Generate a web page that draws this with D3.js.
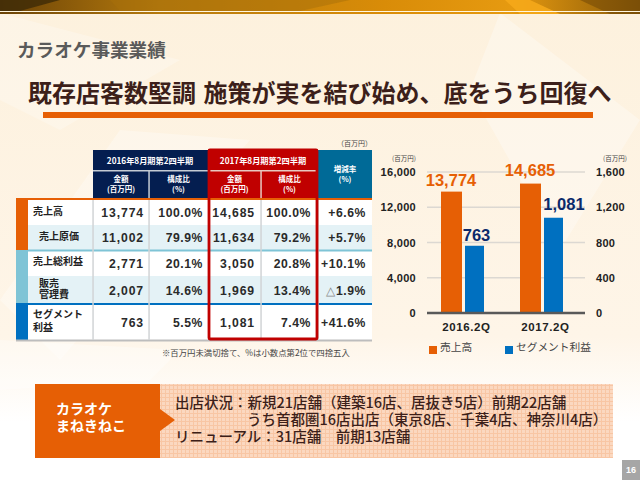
<!DOCTYPE html>
<html>
<head>
<meta charset="utf-8">
<script src="https://cdn.jsdelivr.net/npm/d3@7"></script>
<style>
html, body { margin: 0; padding: 0; background: #fff; overflow: hidden; }
svg { display: block; }
text { font-family: "Noto Sans CJK JP", sans-serif; }
.num { font-family: "Liberation Sans", Arial, sans-serif; font-weight: 700; }
.axis path, .axis line { display: none; }
.axis text { font-family: "Liberation Sans", Arial, sans-serif; font-weight: 700; font-size: 11px; fill: #222; letter-spacing: .3px; }
.axis.bottom text { font-size: 11.5px; letter-spacing: .6px; }
</style>
</head>
<body>
<div id="chart-area"></div>
<script>
// data
let quarters = ["2016.2Q", "2017.2Q"];
let salesValues = [13774, 14685];
let profitValues = [763, 1081];
let leftTicks = [0, 4000, 8000, 12000, 16000];
let rightTicks = [0, 400, 800, 1200, 1600];
let legendLabels = ["売上高", "セグメント利益"];

let rowLabels = [["売上高"], ["売上原価"], ["売上総利益"], ["販売", "管理費"], ["セグメント", "利益"]];
let amount2016 = ["13,774", "11,002", "2,771", "2,007", "763"];
let ratio2016 = ["100.0%", "79.9%", "20.1%", "14.6%", "5.5%"];
let amount2017 = ["14,685", "11,634", "3,050", "1,969", "1,081"];
let ratio2017 = ["100.0%", "79.2%", "20.8%", "13.4%", "7.4%"];
let changeRate = ["+6.6%", "+5.7%", "+10.1%", "△1.9%", "+41.6%"];

let notes = [
	"出店状況：新規21店舗（建築16店、居抜き5店）前期22店舗",
	"うち首都圏16店出店（東京8店、千葉4店、神奈川4店）",
	"リニューアル：31店舗　前期13店舗"
];

let svg = d3.select("#chart-area").append("svg")
	.attr("width", 640)
	.attr("height", 480);

let defs = svg.append("defs");

let bgGrad = defs.append("linearGradient").attr("id", "bg").attr("x1", 0).attr("y1", 0).attr("x2", 0).attr("y2", 1);
bgGrad.append("stop").attr("offset", "0%").attr("stop-color", "#fdf1dd");
bgGrad.append("stop").attr("offset", "70%").attr("stop-color", "#fef5e8");
bgGrad.append("stop").attr("offset", "88%").attr("stop-color", "#ffffff");

let topGrad = defs.append("linearGradient").attr("id", "top");
topGrad.append("stop").attr("offset", "0%").attr("stop-color", "#6b4306");
topGrad.append("stop").attr("offset", "25%").attr("stop-color", "#b57a0e");
topGrad.append("stop").attr("offset", "60%").attr("stop-color", "#d98c08");
topGrad.append("stop").attr("offset", "80%").attr("stop-color", "#e69a10");
topGrad.append("stop").attr("offset", "100%").attr("stop-color", "#8a5a08");

// woven peach texture of the bottom box
let pat = defs.append("pattern").attr("id", "weave").attr("width", 4).attr("height", 4).attr("patternUnits", "userSpaceOnUse");
pat.append("rect").attr("width", 4).attr("height", 4).attr("fill", "#fbd8c0");
pat.append("rect").attr("x", 1).attr("width", 1).attr("height", 4).attr("fill", "#f8c6a4");
pat.append("rect").attr("y", 1).attr("width", 4).attr("height", 1).attr("fill", "#f8c6a4");

// background
svg.append("rect").attr("width", 640).attr("height", 480).attr("fill", "url(#bg)");
let facets = [
	["0,13 180,60 60,130 0,100", "#fff", 0.25],
	["120,130 250,140 60,360 0,300", "#fff", 0.3],
	["500,13 640,120 560,250 470,90", "#fff", 0.3],
	["0,340 180,350 150,380 0,390", "#fff", 0.35]
];
svg.selectAll(".facet").data(facets).enter().append("polygon")
	.attr("class", "facet")
	.attr("points", d => d[0]).attr("fill", d => d[1]).attr("opacity", d => d[2]);

// top band
svg.append("rect").attr("width", 640).attr("height", 14).attr("fill", "url(#top)");
let bandFacets = [
	["0,0 60,0 20,11 0,11", "#3d2a08", 0.8],
	["110,0 350,0 300,11 120,11", "#a86f0a", 0.5],
	["505,0 530,0 560,14 520,14", "#f5a81a", 0.9],
	["580,0 640,0 640,14 610,14", "#6b4306", 0.5]
];
svg.selectAll(".band-facet").data(bandFacets).enter().append("polygon")
	.attr("class", "band-facet")
	.attr("points", d => d[0]).attr("fill", d => d[1]).attr("opacity", d => d[2]);
svg.append("rect").attr("y", 11).attr("width", 640).attr("height", 1).attr("fill", "#fff6e0");

// titles
svg.append("text").attr("x", 17).attr("y", 57)
	.attr("font-size", 18.6).attr("font-weight", 700).attr("fill", "#5a5a5a")
	.text("カラオケ事業業績");
svg.append("text").attr("x", 28).attr("y", 102)
	.attr("font-size", 24).attr("font-weight", 700).attr("word-spacing", 2).attr("fill", "#3c1f1a")
	.text("既存店客数堅調 施策が実を結び始め、底をうち回復へ");
svg.append("rect").attr("x", 43).attr("y", 112).attr("width", 550).attr("height", 6).attr("fill", "#e65f05");

// table
let colX = [93, 149, 208, 261, 318, 372];
let rowY = [200, 225, 250, 276, 304, 340];
let table = svg.append("g");

table.append("text").attr("x", 372).attr("y", 146).attr("text-anchor", "end")
	.attr("font-size", 7).attr("fill", "#444").text("（百万円）");

// header cells
table.append("rect").attr("x", colX[0]).attr("y", 150).attr("width", colX[2] - colX[0]).attr("height", 48).attr("fill", "#041e50");
table.append("rect").attr("x", colX[2]).attr("y", 150).attr("width", colX[4] - colX[2]).attr("height", 48).attr("fill", "#c00000");
table.append("rect").attr("x", colX[4]).attr("y", 150).attr("width", colX[5] - colX[4]).attr("height", 48).attr("fill", "#006a97");
table.append("rect").attr("x", colX[0]).attr("y", 170).attr("width", colX[2] - colX[0]).attr("height", 1.5).attr("fill", "#c5ccd4");
table.append("rect").attr("x", 210).attr("y", 170).attr("width", 106).attr("height", 1.5).attr("fill", "#e8c8c0");
table.append("rect").attr("x", colX[1] - 0.7).attr("y", 170).attr("width", 1.5).attr("height", 28).attr("fill", "#c5ccd4");
table.append("rect").attr("x", colX[3] - 0.7).attr("y", 170).attr("width", 1.5).attr("height", 28).attr("fill", "#e8c8c0");

let headText = (x, y, t, size) => table.append("text").attr("x", x).attr("y", y)
	.attr("text-anchor", "middle").attr("font-size", size).attr("font-weight", 700).attr("fill", "#fff").text(t);
headText(150, 163.5, "2016年8月期第2四半期", 8.2);
headText(263, 163.5, "2017年8月期第2四半期", 8.2);
[(colX[0] + colX[1]) / 2, (colX[2] + colX[3]) / 2].forEach(x => {
	headText(x, 182, "金額", 7.5);
	headText(x, 192, "(百万円)", 7.5);
});
[(colX[1] + colX[2]) / 2, (colX[3] + colX[4]) / 2].forEach(x => {
	headText(x, 182, "構成比", 7.5);
	headText(x, 192, "(%)", 7.5);
});
headText(345, 172, "増減率", 7.5);
headText(345, 182, "(%)", 7.5);

// body rows
rowLabels.forEach((label, i) => {
	table.append("rect").attr("x", 28).attr("y", rowY[i]).attr("width", colX[5] - 28)
		.attr("height", rowY[i + 1] - rowY[i])
		.attr("fill", i % 2 == 1 ? "#e4f2f6" : "#fff");
});

// left colour blocks and dividers
table.append("rect").attr("x", 16).attr("y", 198).attr("width", 12).attr("height", 52).attr("fill", "#e65f05");
table.append("rect").attr("x", 16).attr("y", 250).attr("width", 12).attr("height", 54).attr("fill", "#7fc4d6");
table.append("rect").attr("x", 16).attr("y", 303).attr("width", 12).attr("height", 37).attr("fill", "#0070c0");
table.append("rect").attr("x", 28).attr("y", 198).attr("width", colX[5] - 28).attr("height", 2).attr("fill", "#e65f05");
table.append("rect").attr("x", 28).attr("y", 249.5).attr("width", colX[5] - 28).attr("height", 2).attr("fill", "#7fc4d6");
table.append("rect").attr("x", 28).attr("y", 303).attr("width", colX[5] - 28).attr("height", 2).attr("fill", "#0070c0");
table.append("rect").attr("x", 16).attr("y", 339.5).attr("width", colX[5] - 16).attr("height", 2).attr("fill", "#bdbdbd");

[colX[0], colX[1], colX[3], colX[4]].forEach(x => {
	table.append("rect").attr("x", x - 0.7).attr("y", 200).attr("width", 1.5).attr("height", 140).attr("fill", "#d2d4d6");
});

let labelX = [33, 39, 33, 39, 33];
let labelPitch = [13, 13, 13, 11, 13];
rowLabels.forEach((lines, i) => {
	let mid = (rowY[i] + rowY[i + 1]) / 2;
	lines.forEach((t, j) => {
		table.append("text").attr("x", labelX[i])
			.attr("y", mid + 2 + (j - (lines.length - 1) / 2) * labelPitch[i])
			.attr("font-size", 10).attr("font-weight", 700).attr("fill", "#222").text(t);
	});
});

let columns = [
	[amount2016, 144, 0.9],
	[ratio2016, 203, 0.55],
	[amount2017, 255, 0.9],
	[ratio2017, 311, 0.55],
	[changeRate, 366, 0.55]
];
columns.forEach(([vals, right, spacing]) => {
	vals.forEach((v, i) => {
		let mid = (rowY[i] + rowY[i + 1]) / 2;
		let t = table.append("text").attr("class", "num").attr("x", right)
			.attr("y", mid + 4.5)
			.attr("text-anchor", "end").attr("font-size", 12.2).attr("letter-spacing", spacing).attr("fill", "#2a2a2a");
		if (v[0] == "△") {
			t.append("tspan").attr("fill", "#888").style("font-weight", 400).text("△");
			t.append("tspan").text(v.slice(1));
		} else {
			t.text(v);
		}
	});
});

// red frame around the current period
table.append("rect").attr("x", 209).attr("y", 150).attr("width", 108).attr("height", 189)
	.attr("rx", 1).attr("fill", "none").attr("stroke", "#c00000").attr("stroke-width", 2.8);

table.append("text").attr("x", 162).attr("y", 356).attr("font-size", 8.4).attr("fill", "#444")
	.text("※百万円未満切捨て、%は小数点第2位で四捨五入");

// bar chart
let plotLeft = 427, plotRight = 585, plotTop = 172, plotBottom = 313;

let xCentre = d3.scalePoint().domain(quarters).range([463, 542]);
let ySales = d3.scaleLinear().domain([0, 16000]).range([plotBottom, plotTop]);
let yProfit = d3.scaleLinear().domain([0, 1600]).range([plotBottom, plotTop]);

let chart = svg.append("g");

chart.selectAll(".grid").data(leftTicks.slice(1)).enter().append("line")
	.attr("class", "grid")
	.attr("x1", plotLeft).attr("x2", plotRight)
	.attr("y1", d => ySales(d)).attr("y2", d => ySales(d))
	.attr("stroke", "#dcd8d2").attr("stroke-width", 1.5);

let salesBarW = 21, profitBarW = 19;

chart.selectAll(".bar-sales").data(salesValues).enter().append("rect")
	.attr("class", "bar-sales")
	.attr("x", (d, i) => xCentre(quarters[i]) - salesBarW - 1)
	.attr("y", d => ySales(d))
	.attr("width", salesBarW)
	.attr("height", d => plotBottom - ySales(d))
	.attr("fill", "#e65f05");

chart.selectAll(".bar-profit").data(profitValues).enter().append("rect")
	.attr("class", "bar-profit")
	.attr("x", (d, i) => xCentre(quarters[i]) + 2)
	.attr("y", d => yProfit(d))
	.attr("width", profitBarW)
	.attr("height", d => plotBottom - yProfit(d))
	.attr("fill", "#0070c0");

chart.append("line").attr("x1", plotLeft).attr("x2", plotRight)
	.attr("y1", plotBottom).attr("y2", plotBottom)
	.attr("stroke", "#595959").attr("stroke-width", 2.5);

// the value labels are placed by hand in the original, so each gets its own nudge
let salesLabelDy = [6, 8];
let profitLabelDx = [13.5, 22];
let profitLabelDy = [5, 7.5];

chart.selectAll(".label-sales").data(salesValues).enter().append("text")
	.attr("class", "label-sales num")
	.attr("x", (d, i) => xCentre(quarters[i]) - 12)
	.attr("y", (d, i) => ySales(d) - salesLabelDy[i])
	.attr("text-anchor", "middle").attr("font-size", 16.5).attr("fill", "#e65f05")
	.text(d => d3.format(",")(d));

chart.selectAll(".label-profit").data(profitValues).enter().append("text")
	.attr("class", "label-profit num")
	.attr("x", (d, i) => xCentre(quarters[i]) + profitLabelDx[i])
	.attr("y", (d, i) => yProfit(d) - profitLabelDy[i])
	.attr("text-anchor", "middle").attr("font-size", 16.5).attr("fill", "#0b2a6b")
	.text(d => d3.format(",")(d));

let leftAxis = d3.axisLeft(ySales).tickValues(leftTicks).tickSize(0).tickPadding(0).tickFormat(d3.format(","));
let rightAxis = d3.axisRight(yProfit).tickValues(rightTicks).tickSize(0).tickPadding(0).tickFormat(d3.format(","));

chart.append("g").attr("class", "axis").attr("transform", "translate(416,0)").call(leftAxis);
chart.append("g").attr("class", "axis").attr("transform", "translate(596,0)").call(rightAxis);

let bottomAxis = d3.axisBottom(xCentre).tickSize(0).tickPadding(0);
chart.append("g").attr("class", "axis bottom").attr("transform", "translate(3,323)").call(bottomAxis);

chart.append("text").attr("x", 404).attr("y", 161).attr("text-anchor", "middle").attr("font-size", 6.5).attr("fill", "#444").text("(百万円)");
chart.append("text").attr("x", 615).attr("y", 161).attr("text-anchor", "middle").attr("font-size", 6.5).attr("fill", "#444").text("(百万円)");

// legend
let legendX = [429, 505];
let legendColors = ["#e65f05", "#0070c0"];
legendLabels.forEach((t, i) => {
	chart.append("rect").attr("x", legendX[i]).attr("y", 346).attr("width", 8).attr("height", 8).attr("fill", legendColors[i]);
	chart.append("text").attr("x", legendX[i] + 11).attr("y", 351).attr("font-size", 10.7).attr("fill", "#444").text(t);
});

// bottom box
svg.append("rect").attr("x", 160).attr("y", 384).attr("width", 453).attr("height", 74).attr("fill", "url(#weave)");
svg.append("polygon").attr("points", "35,384 160,384 160,409 175,420 160,431 160,458 35,458").attr("fill", "#e65f05");
svg.append("text").attr("x", 56).attr("y", 413.5).attr("font-size", 14).attr("font-weight", 700).attr("fill", "#fff").text("カラオケ");
svg.append("text").attr("x", 56).attr("y", 431).attr("font-size", 14).attr("font-weight", 700).attr("fill", "#fff").text("まねきねこ");

let noteX = [175, 247, 175];
svg.selectAll(".note").data(notes).enter().append("text")
	.attr("class", "note")
	.attr("x", (d, i) => noteX[i])
	.attr("y", (d, i) => 408 + i * 17)
	.attr("font-size", 14.5).attr("font-weight", 500).attr("fill", "#3c1f1a")
	.text(d => d);

// page number
svg.append("rect").attr("x", 622).attr("y", 460).attr("width", 18).attr("height", 20).attr("fill", "#a6a6a6");
svg.append("text").attr("class", "num").attr("x", 631).attr("y", 473).attr("text-anchor", "middle")
	.attr("font-size", 9).attr("fill", "#fff").text("16");
</script>
</body>
</html>
